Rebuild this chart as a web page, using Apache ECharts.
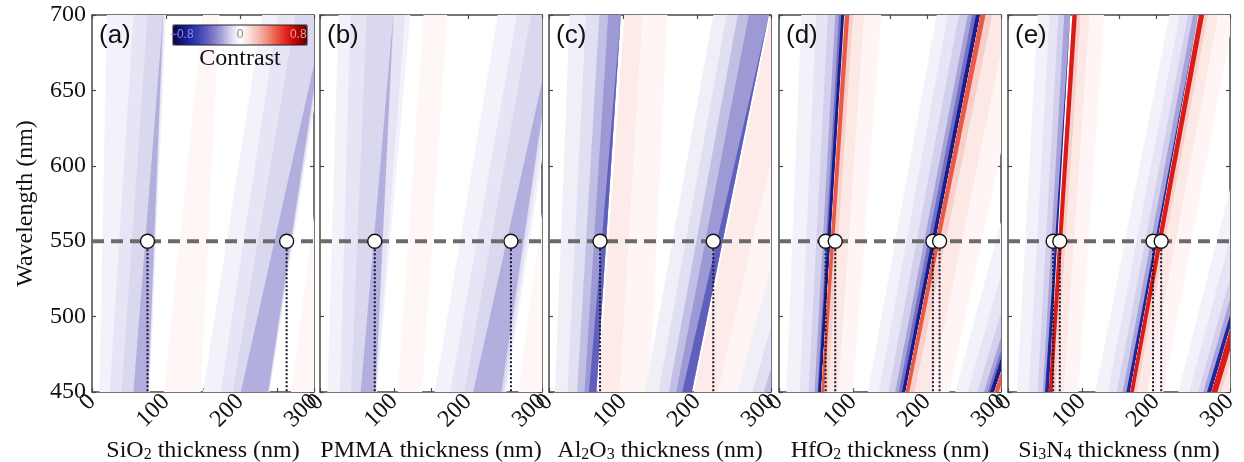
<!DOCTYPE html>
<html><head><meta charset="utf-8">
<script src="https://cdn.jsdelivr.net/npm/echarts@6/dist/echarts.min.js"></script>
<style>html,body{margin:0;padding:0;background:#fff}#c{width:1244px;height:462px}</style>
</head><body><div id="c"></div>
<script>
// ---------- data ----------
const panelLabels = ['(a)', '(b)', '(c)', '(d)', '(e)'];
const axisTitles = ['SiO{s|2} thickness (nm)', 'PMMA thickness (nm)', 'Al{s|2}O{s|3} thickness (nm)', 'HfO{s|2} thickness (nm)', 'Si{s|3}N{s|4} thickness (nm)'];
const thicknessRange = [0, 300];
const wavelengthRange = [450, 700];
const thicknessTickStep = 50;
const wavelengthTickStep = 50;
const referenceWavelength = 550;
const contrastRange = [-0.92, 0.92];
const contrastTicks = [-0.8, 0, 0.8];

// contrast stripes: [thickness left @450nm, thickness right @450nm, thickness left @700nm, thickness right @700nm, contrast]
const stripesSiO2 = [
  [10, 78, 20, 100, -0.04],
  [24, 77, 56, 98, -0.08],
  [40, 76, 75, 97, -0.12],
  [56, 76, 96, 96, -0.22],
  [97, 147, 150, 172, 0.03],
  [150, 240, 230, 320, -0.04],
  [174, 239, 251, 318, -0.08],
  [190, 239, 275, 316, -0.12],
  [201, 238, 315, 315, -0.22],
  [269, 330, 335, 380, 0.03]
];
const stripesPMMA = [
  [10, 77, 25, 122, -0.04],
  [27, 76, 41, 115, -0.08],
  [42, 75, 63, 100, -0.12],
  [55, 75, 99, 99, -0.22],
  [105, 138, 140, 172, 0.03],
  [155, 252, 240, 330, -0.04],
  [176, 250, 266, 325, -0.08],
  [195, 248, 285, 320, -0.12],
  [207, 245, 320, 320, -0.22],
  [268, 330, 335, 390, 0.03]
];
const stripesAl2O3 = [
  [8, 64, 28, 97, -0.05],
  [25, 64, 50, 97, -0.1],
  [38, 64, 68, 97, -0.18],
  [48, 64, 80, 97, -0.28],
  [54, 64, 97, 97, -0.45],
  [66, 136, 102, 160, 0.04],
  [66, 95, 102, 126, 0.08],
  [130, 193, 222, 297, -0.05],
  [148, 193, 240, 297, -0.1],
  [162, 193, 255, 297, -0.18],
  [172, 193, 270, 297, -0.28],
  [180, 193, 297, 297, -0.45],
  [196, 265, 300, 390, 0.04],
  [196, 228, 300, 345, 0.08],
  [255, 322, 390, 500, -0.05],
  [275, 322, 420, 500, -0.1],
  [290, 322, 450, 500, -0.18]
];
const stripesHfO2 = [
  [10, 56, 30, 84, -0.04],
  [28, 56, 50, 84, -0.08],
  [40, 56, 66, 84, -0.14],
  [48, 56, 76, 84, -0.25],
  [52, 56, 81, 84, -0.4],
  [53, 57, 84, 88, -0.75],
  [57, 100, 89, 138, 0.04],
  [57, 80, 89, 115, 0.09],
  [57, 66, 89, 100, 0.18],
  [57, 61, 89, 95, 0.5],
  [120, 166, 213, 266, -0.04],
  [135, 166, 228, 266, -0.08],
  [148, 166, 243, 266, -0.14],
  [157, 166, 255, 266, -0.25],
  [162, 166, 261, 266, -0.4],
  [166, 171, 266, 272, -0.75],
  [171, 230, 272, 340, 0.04],
  [171, 205, 272, 310, 0.09],
  [171, 183, 272, 288, 0.18],
  [171, 176, 272, 279, 0.5],
  [238, 285, 375, 450, -0.04],
  [255, 285, 400, 450, -0.08],
  [268, 285, 420, 450, -0.14],
  [277, 285, 435, 450, -0.25],
  [282, 285, 445, 450, -0.4],
  [285, 291, 450, 458, -0.75],
  [291, 350, 458, 540, 0.04],
  [291, 320, 458, 500, 0.09],
  [291, 302, 458, 475, 0.18],
  [291, 297, 458, 466, 0.5]
];
const stripesSi3N4 = [
  [12, 53, 40, 84, -0.04],
  [28, 53, 56, 84, -0.08],
  [40, 53, 68, 84, -0.14],
  [47, 54, 76, 84, -0.25],
  [50, 55, 84, 84, -0.7],
  [56, 95, 87, 130, 0.04],
  [56, 75, 87, 110, 0.09],
  [56, 64, 87, 98, 0.18],
  [55, 60, 87, 93, 0.66],
  [118, 160, 218, 256, -0.04],
  [135, 160, 232, 256, -0.08],
  [147, 160, 243, 256, -0.14],
  [155, 161, 250, 257, -0.25],
  [160, 165, 257, 257, -0.7],
  [165, 210, 258, 305, 0.04],
  [165, 188, 258, 284, 0.09],
  [165, 174, 258, 270, 0.18],
  [165, 170, 258, 265, 0.66],
  [230, 269, 360, 420, -0.04],
  [245, 269, 380, 420, -0.08],
  [257, 269, 400, 420, -0.14],
  [264, 270, 410, 421, -0.25],
  [269, 275, 422, 422, -0.7],
  [275, 330, 425, 480, 0.04],
  [275, 300, 425, 455, 0.09],
  [275, 288, 425, 442, 0.18],
  [275, 283, 425, 437, 0.66]
];
const panelStripes = [stripesSiO2, stripesPMMA, stripesAl2O3, stripesHfO2, stripesSi3N4];

// optimal thicknesses marked at 550 nm
const optimalSiO2 = [75, 263];
const optimalPMMA = [74, 258];
const optimalAl2O3 = [69, 222];
const optimalHfO2 = [63, 76, 208, 217];
const optimalSi3N4 = [61, 70, 196, 207];
const panelOptimal = [optimalSiO2, optimalPMMA, optimalAl2O3, optimalHfO2, optimalSi3N4];

// ---------- layout & style ----------
const panelLefts = [92, 320, 549, 779, 1008];
const panelWidth = 222;
const panelTop = 15;
const panelHeight = 377;
const serif = 'Liberation Serif, Times New Roman, serif';
const sans = 'Liberation Sans, Arial, sans-serif';
const frameColor = '#484848';
const colorStops = ['#08084a', '#12127a', '#1e28a0', '#3a40b0', '#5e5cbc', '#8482cc', '#aeaadc', '#dcdaf0', '#ffffff',
  '#fbe2de', '#f6c0b8', '#f29888', '#ec6a58', '#e43a2a', '#d81010', '#a80000', '#600000'];

const grids = [], xAxes = [], yAxes = [], series = [], titles = [];
const stripeSeriesIdx = [];
const lineStyleFrame = { color: frameColor, width: 1.5 };

for (let k = 0; k < 5; k++) {
  grids.push({ left: panelLefts[k], top: panelTop, width: panelWidth, height: panelHeight,
    containLabel: false, outerBoundsMode: 'none' });
  const commonX = {
    gridIndex: k, type: 'value', min: thicknessRange[0], max: thicknessRange[1], interval: thicknessTickStep,
    axisLine: { show: true, onZero: false, lineStyle: lineStyleFrame },
    axisTick: { show: true, inside: true, length: 4, lineStyle: { color: frameColor, width: 1.2 } },
    splitLine: { show: false }
  };
  xAxes.push(Object.assign({}, commonX, {
    position: 'bottom',
    axisLabel: {
      rotate: 45, margin: 6, fontFamily: serif, fontSize: 24, color: '#111',
      showMinLabel: true, showMaxLabel: true,
      formatter: v => (v % 100 === 0 ? String(v) : '')
    },
    name: axisTitles[k], nameLocation: 'middle', nameGap: 33,
    nameTextStyle: {
      fontFamily: serif, fontSize: 24, color: '#111',
      rich: { s: { fontFamily: serif, fontSize: 16, lineHeight: 10, verticalAlign: 'bottom', color: '#111' } }
    }
  }));
  xAxes.push(Object.assign({}, commonX, { position: 'top', axisLabel: { show: false } }));
  const commonY = {
    gridIndex: k, type: 'value', min: wavelengthRange[0], max: wavelengthRange[1], interval: wavelengthTickStep,
    axisLine: { show: true, onZero: false, lineStyle: lineStyleFrame },
    axisTick: { show: true, inside: true, length: 4, lineStyle: { color: frameColor, width: 1.2 } },
    splitLine: { show: false }
  };
  yAxes.push(Object.assign({}, commonY, {
    position: 'left',
    axisLabel: { show: k === 0, margin: 6, fontFamily: serif, fontSize: 24, color: '#111' },
    name: k === 0 ? 'Wavelength (nm)' : '', nameLocation: 'middle', nameGap: 54,
    nameTextStyle: { fontFamily: serif, fontSize: 24, color: '#111' }
  }));
  yAxes.push(Object.assign({}, commonY, { position: 'right', axisLabel: { show: false } }));

  const xi = 2 * k, yi = 2 * k;
  stripeSeriesIdx.push(series.length);
  series.push({
    type: 'custom', xAxisIndex: xi, yAxisIndex: yi, clip: true, silent: true, z: 1,
    data: panelStripes[k],
    renderItem: (params, api) => {
      const p = [
        api.coord([api.value(0), wavelengthRange[0]]),
        api.coord([api.value(1), wavelengthRange[0]]),
        api.coord([api.value(3), wavelengthRange[1]]),
        api.coord([api.value(2), wavelengthRange[1]])
      ];
      return { type: 'polygon', shape: { points: p }, style: { fill: api.visual('color') } };
    }
  });
  series.push({
    type: 'line', xAxisIndex: xi, yAxisIndex: yi, silent: true, z: 2, symbol: 'none',
    data: [[thicknessRange[0], referenceWavelength], [thicknessRange[1], referenceWavelength]],
    lineStyle: { color: '#6b6b6b', width: 4, type: [12, 7] }
  });
  series.push({
    type: 'custom', xAxisIndex: xi, yAxisIndex: yi, clip: true, silent: true, z: 3,
    data: panelOptimal[k].map(t => [t, referenceWavelength]),
    renderItem: (params, api) => {
      const a = api.coord([api.value(0), api.value(1)]);
      const b = api.coord([api.value(0), wavelengthRange[0]]);
      return { type: 'line', shape: { x1: a[0], y1: a[1], x2: b[0], y2: b[1] },
        style: { stroke: '#151530', lineWidth: 2, lineDash: [2, 2] } };
    }
  });
  series.push({
    type: 'scatter', xAxisIndex: xi, yAxisIndex: yi, silent: true, z: 4,
    data: panelOptimal[k].map(t => [t, referenceWavelength]),
    symbol: 'circle', symbolSize: 14,
    itemStyle: { color: '#ffffff', borderColor: '#111', borderWidth: 1.4, opacity: 1 }
  });
  titles.push({ text: panelLabels[k], left: panelLefts[k] + 7, top: 23, padding: 0,
    textStyle: { fontFamily: sans, fontSize: 26, fontWeight: 'normal', color: '#111' } });
}

// colorbar labels grid
const cbLeft = 173, cbTop = 25, cbWidth = 134, cbHeight = 20;
grids.push({ left: cbLeft, top: cbTop, width: cbWidth, height: cbHeight, show: true,
  borderColor: '#222', borderWidth: 1, backgroundColor: 'transparent', z: 10,
  containLabel: false, outerBoundsMode: 'none' });
xAxes.push({
  gridIndex: 5, type: 'value', min: contrastRange[0], max: contrastRange[1], z: 10,
  axisLine: { show: false }, axisTick: { show: false }, splitLine: { show: false },
  axisLabel: {
    inside: true, margin: 4, customValues: contrastTicks,
    formatter: v => (v < 0 ? '{n|−0.8}' : v > 0 ? '{p|0.8}' : '{z|0}'),
    rich: {
      n: { color: '#8a8ae0', fontFamily: sans, fontSize: 12 },
      z: { color: '#8a8a8a', fontFamily: sans, fontSize: 12 },
      p: { color: '#eaa0a0', fontFamily: sans, fontSize: 12 }
    }
  },
  name: 'Contrast', nameLocation: 'middle', nameGap: 2,
  nameTextStyle: { fontFamily: serif, fontSize: 24, color: '#111', verticalAlign: 'top' }
});
yAxes.push({ gridIndex: 5, type: 'value', min: 0, max: 1, show: false });

const option = {
  animation: false,
  backgroundColor: '#ffffff',
  title: titles,
  grid: grids,
  xAxis: xAxes,
  yAxis: yAxes,
  visualMap: {
    type: 'continuous', min: contrastRange[0], max: contrastRange[1], dimension: 4,
    seriesIndex: stripeSeriesIdx, orient: 'horizontal', left: cbLeft, top: cbTop,
    itemWidth: cbHeight, itemHeight: cbWidth, calculable: false, hoverLink: false, padding: 0,
    inRange: { color: colorStops }
  },
  series: series
};
const chart = echarts.init(document.getElementById('c'), null, { renderer: 'canvas' });
chart.setOption(option);
</script></body></html>
